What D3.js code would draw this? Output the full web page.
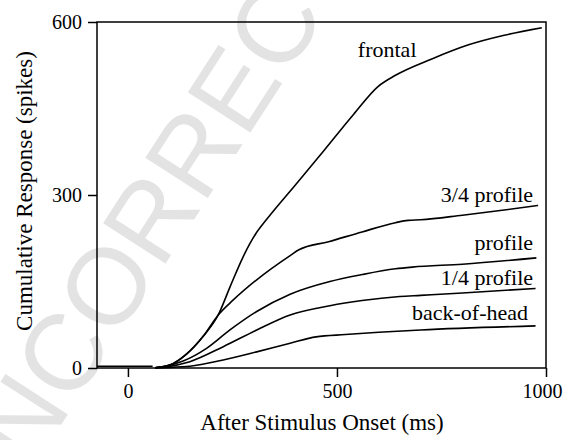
<!DOCTYPE html>
<html>
<head>
<meta charset="utf-8">
<script src="https://cdn.jsdelivr.net/npm/d3@7"></script>
<style>
  body { margin: 0; background: #fff; }
</style>
</head>
<body>
<div id="chart"></div>
<script>
// data (x = ms after stimulus onset, y = cumulative spikes)
const xTicks = [0, 500, 1000];
const yTicks = [0, 300, 600];

const baseline = [[-74, 3], [59, 3]];

const frontal = [[65, 0.5], [100, 5], [140, 24], [180, 55], [216, 92], [245, 142], [275, 192],
  [305, 232], [331, 257], [400, 317], [470, 378], [540, 440], [598, 488], [641, 508],
  [727, 536], [813, 560], [900, 577], [990, 590]];

const threeQuarter = [[65, 0.5], [100, 5], [140, 24], [180, 55], [216, 92], [252, 118],
  [308, 153], [388, 195], [409, 205], [480, 219], [560, 236], [640, 252], [670, 256],
  [700, 257], [800, 265], [900, 274], [981, 282]];

const profile = [[65, 0.5], [90, 3], [132, 12], [188, 34], [244, 66], [308, 98], [388, 128],
  [483, 150], [560, 162], [640, 172], [680, 175], [800, 180], [977, 191]];

const quarter = [[65, 0.5], [90, 2], [148, 11], [228, 37], [308, 66], [388, 92], [483, 108],
  [560, 117], [650, 124], [700, 126], [800, 130], [975, 138]];

const backOfHead = [[65, 0.5], [100, 1], [148, 3], [228, 14], [308, 28], [388, 43], [450, 54],
  [520, 58], [600, 62], [700, 66], [975, 73]];

const seriesNames = ["frontal", "3/4 profile", "profile", "1/4 profile", "back-of-head"];
// label anchors in data units
const labelPos = [[550, 539], [969, 288], [969, 205], [969, 144], [957, 83]];
const labelAnchor = ["start", "end", "end", "end", "end"];

const allSeries = [frontal, threeQuarter, profile, quarter, backOfHead];

const serifFont = "'Liberation Serif'";

const margin = {top: 22, right: 18, bottom: 72, left: 97},
    width = 564 - margin.left - margin.right,
    height = 440 - margin.top - margin.bottom;

const root = d3.select("#chart")
  .append("svg")
    .attr("width", 564)
    .attr("height", 440);

// faint proof watermark behind the chart
root.append("text")
  .attr("transform", "translate(-12,538) rotate(-57.1)")
  .style("font-family", "'Liberation Sans'")
  .style("font-size", "108px")
  .attr("fill", "#e3e3e3")
  .text("UNCORRECTED PROOF");

const svg = root.append("g")
    .attr("transform", `translate(${margin.left}, ${margin.top})`);

const x = d3.scaleLinear()
  .domain([-74, 1000])
  .range([0, width]);

const y = d3.scaleLinear()
  .domain([0, 600])
  .range([height, 0]);

// frame
svg.append("rect")
  .attr("x", 0)
  .attr("y", 0)
  .attr("width", width)
  .attr("height", height)
  .attr("fill", "none")
  .attr("stroke", "#000")
  .attr("stroke-width", 1.5);

const xAxis = svg.append("g")
  .attr("transform", `translate(0, ${height})`)
  .call(d3.axisBottom(x).tickValues(xTicks).tickFormat(d3.format("d"))
    .tickSize(9).tickSizeOuter(0).tickPadding(7));

const yAxis = svg.append("g")
  .call(d3.axisLeft(y).tickValues(yTicks).tickFormat(d3.format("d"))
    .tickSize(9).tickSizeOuter(0).tickPadding(6));

[xAxis, yAxis].forEach(function(a) {
  a.attr("font-family", null).attr("font-size", null);
  a.select(".domain").remove();
  a.selectAll("line").attr("stroke-width", 1.5);
  a.selectAll("text")
    .style("font-family", serifFont)
    .style("font-size", "20px")
    .attr("fill", "#000");
});

// last x label sits a little left of its tick so it stays on the page
xAxis.selectAll(".tick text")
  .attr("dx", function(d) { return d === 1000 ? -4 : 0; });

const line = d3.line()
  .curve(d3.curveMonotoneX)
  .x(function(d) { return x(d[0]); })
  .y(function(d) { return y(d[1]); });

svg.append("path")
  .datum(baseline)
  .attr("fill", "none")
  .attr("stroke", "#000")
  .attr("stroke-width", 1.5)
  .attr("d", line);

svg.selectAll(".curve")
  .data(allSeries)
  .join("path")
    .attr("class", "curve")
    .attr("fill", "none")
    .attr("stroke", "#000")
    .attr("stroke-width", 1.6)
    .attr("d", line);

svg.selectAll(".lbl")
  .data(seriesNames)
  .join("text")
    .attr("class", "lbl")
    .attr("x", function(d, i) { return x(labelPos[i][0]); })
    .attr("y", function(d, i) { return y(labelPos[i][1]); })
    .attr("text-anchor", function(d, i) { return labelAnchor[i]; })
    .style("font-family", serifFont)
    .style("font-size", "22px")
    .text(function(d) { return d; });

// axis titles
svg.append("text")
  .attr("x", (322 - margin.left))
  .attr("y", height + 62)
  .attr("text-anchor", "middle")
  .style("font-family", serifFont)
  .style("font-size", "23px")
  .text("After Stimulus Onset (ms)");

svg.append("text")
  .attr("transform", `translate(${32 - margin.left}, ${height / 2 - 4}) rotate(-90)`)
  .attr("text-anchor", "middle")
  .style("font-family", serifFont)
  .style("font-size", "23px")
  .text("Cumulative Response (spikes)");
</script>
</body>
</html>
